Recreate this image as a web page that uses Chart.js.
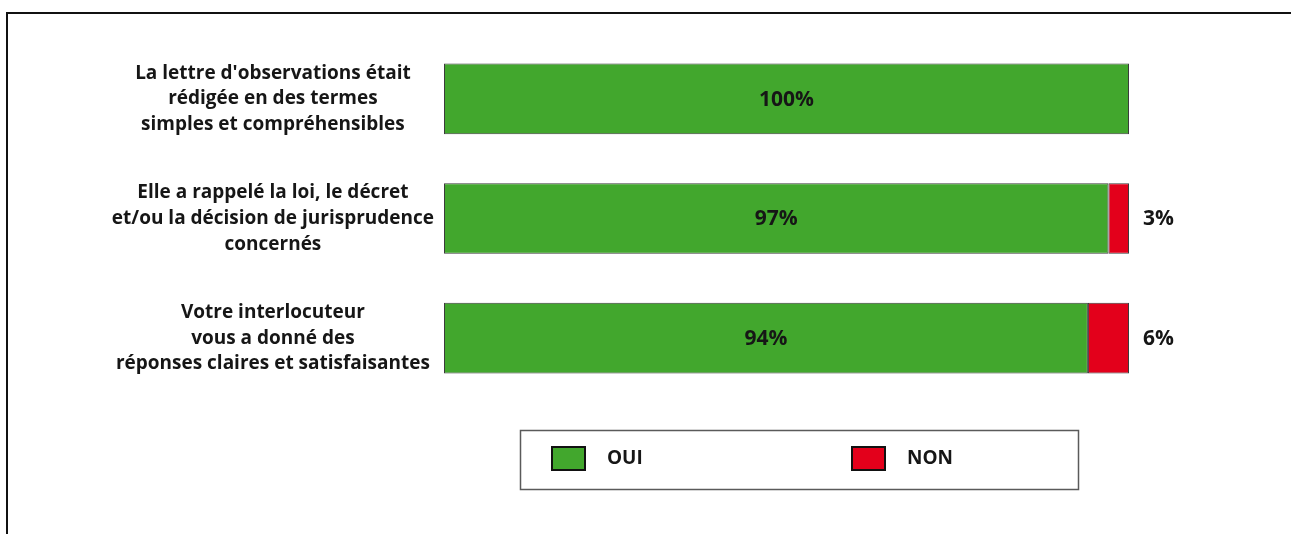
<!DOCTYPE html>
<html>
<head>
<meta charset="utf-8">
<script src="https://cdn.jsdelivr.net/npm/chart.js@4.4.0/dist/chart.umd.min.js"></script>
<style>
  html, body { margin: 0; padding: 0; background: #ffffff; }
  #wrap { width: 1291px; height: 534px; position: relative; }
</style>
</head>
<body>
<div id="wrap"><canvas id="c" width="1291" height="534"></canvas></div>
<script>
// Questions (one label block per bar, one entry per line)
const categories = [
  ["La lettre d'observations était", "rédigée en des termes", "simples et compréhensibles"],
  ["Elle a rappelé la loi, le décret", "et/ou la décision de jurisprudence", "concernés"],
  ["Votre interlocuteur", "vous a donné des", "réponses claires et satisfaisantes"]
];
const seriesNames = ["OUI", "NON"];
const ouiValues = [100, 97, 94];
const nonValues = [0, 3, 6];
const seriesColors = ["#42a72d", "#e3001b"];

const FONT = "'Open Sans'";
const TEXT = "#161616";

// Black frame around the figure
const framePlugin = {
  id: "frame",
  beforeDraw(chart) {
    const ctx = chart.ctx;
    ctx.save();
    ctx.fillStyle = "#ffffff";
    ctx.fillRect(0, 0, chart.width, chart.height);
    ctx.strokeStyle = "#111111";
    ctx.lineWidth = 2;
    ctx.strokeRect(7, 13, chart.width + 20, chart.height + 20);
    ctx.restore();
  }
};

// Percent labels: OUI inside the green segment, NON after the bar end
const valueLabelPlugin = {
  id: "valueLabels",
  afterDatasetsDraw(chart) {
    const ctx = chart.ctx;
    ctx.save();
    ctx.fillStyle = TEXT;
    ctx.font = "bold 21px " + FONT;
    ctx.textBaseline = "middle";
    const ouiMeta = chart.getDatasetMeta(0);
    ouiMeta.data.forEach((el, i) => {
      const v = ouiValues[i];
      if (!v) return;
      ctx.textAlign = "center";
      ctx.fillText(v + "%", (el.base + el.x) / 2, el.y + 1);
    });
    const nonMeta = chart.getDatasetMeta(1);
    nonMeta.data.forEach((el, i) => {
      const v = nonValues[i];
      if (!v) return;
      ctx.textAlign = "left";
      ctx.fillText(v + "%", el.x + 14, el.y + 1);
    });
    ctx.restore();
  }
};

// Boxed legend centred under the bars
const legendBoxPlugin = {
  id: "legendBox",
  afterDraw(chart) {
    const ctx = chart.ctx;
    ctx.save();
    ctx.strokeStyle = "#5a5a5a";
    ctx.lineWidth = 1.5;
    ctx.strokeRect(520.5, 430.5, 558, 59);
    const items = [
      { x: 552, label: seriesNames[0], color: seriesColors[0] },
      { x: 852, label: seriesNames[1], color: seriesColors[1] }
    ];
    ctx.font = "bold 19px " + FONT;
    ctx.textBaseline = "middle";
    ctx.textAlign = "left";
    items.forEach(it => {
      ctx.fillStyle = it.color;
      ctx.fillRect(it.x, 447, 33, 23);
      ctx.strokeStyle = "#111111";
      ctx.lineWidth = 2;
      ctx.strokeRect(it.x, 447, 33, 23);
      ctx.fillStyle = TEXT;
      ctx.fillText(it.label, it.x + 55, 459);
    });
    ctx.restore();
  }
};

new Chart(document.getElementById("c"), {
  type: "bar",
  data: {
    labels: categories,
    datasets: [
      {
        label: seriesNames[0],
        data: ouiValues,
        backgroundColor: seriesColors[0],
        borderColor: "#3b3b3b",
        borderWidth: 1,
        borderSkipped: false
      },
      {
        label: seriesNames[1],
        data: nonValues,
        backgroundColor: seriesColors[1],
        borderColor: "#3b3b3b",
        borderWidth: 1,
        borderSkipped: false
      }
    ]
  },
  options: {
    indexAxis: "y",
    responsive: false,
    animation: false,
    devicePixelRatio: 1,
    layout: { padding: { left: 0, right: 162, top: 39, bottom: 136 } },
    datasets: { bar: { categoryPercentage: 1, barPercentage: 0.59 } },
    scales: {
      x: { stacked: true, min: 0, max: 100, display: false },
      y: {
        stacked: true,
        grid: { display: false },
        border: { display: false },
        ticks: {
          crossAlign: "center",
          padding: 2,
          color: TEXT,
          font: { family: "Open Sans", weight: "bold", size: 19, lineHeight: 1.35 }
        },
        afterFit(scale) {
          scale.width = 444;
          scale.paddingTop = 0;
          scale.paddingBottom = 0;
        }
      }
    },
    plugins: {
      legend: { display: false },
      tooltip: { enabled: false }
    }
  },
  plugins: [framePlugin, valueLabelPlugin, legendBoxPlugin]
});
</script>
</body>
</html>
